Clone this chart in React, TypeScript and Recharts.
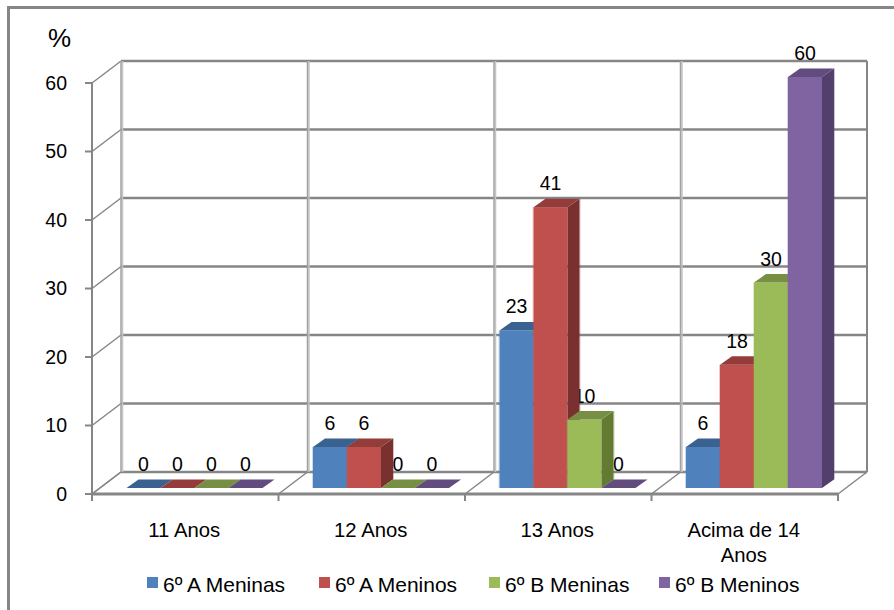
import React from 'react';
import { BarChart, Bar, XAxis, YAxis, CartesianGrid, Legend } from 'recharts';

const categories = ['11 Anos', '12 Anos', '13 Anos', 'Acima de 14 Anos'];
const aMeninas = [0, 6, 23, 6];
const aMeninos = [0, 6, 41, 18];
const bMeninas = [0, 0, 10, 30];
const bMeninos = [0, 0, 0, 60];
const seriesNames = ['6º A Meninas', '6º A Meninos', '6º B Meninas', '6º B Meninos'];
const valueTicks = [0, 10, 20, 30, 40, 50, 60];
const frontColors = ['#4F81BD', '#C0504D', '#9BBB59', '#8064A2'];
const topColors = ['#3A6291', '#943C3A', '#768F43', '#624B7D'];
const sideColors = ['#345A87', '#7A302E', '#637A33', '#533F6C'];

const rows = categories.map((cat, i) => ({
  cat,
  a: aMeninas[i],
  b: aMeninos[i],
  c: bMeninas[i],
  d: bMeninos[i],
}));

const FONT = '"Liberation Sans", Arial, sans-serif';
const GREY = '#868686';
const LIGHT = '#C4C4C4';
const WALL_DX = 29;
const WALL_DY = 22;
const BAR_DX = 9.5;
const BAR_DY = 6;
const DEPTH_X = 12;
const DEPTH_Y = 8.5;

const wallHorizontal = (p: any) => (
  <g key={p.key ?? p.index}>
    <line x1={p.x1} y1={p.y1} x2={p.x1 + WALL_DX} y2={p.y1 - WALL_DY} stroke={GREY} strokeWidth={1.5} />
    <line x1={p.x1 + WALL_DX} y1={p.y1 - WALL_DY} x2={p.x2 + WALL_DX} y2={p.y1 - WALL_DY} stroke={GREY} strokeWidth={2.5} />
  </g>
);

const wallVertical = (p: any) => {
  const last = p.index === categories.length;
  const bx = p.x1 + WALL_DX;
  const bottom = Math.max(p.y1, p.y2);
  const top = Math.min(p.y1, p.y2);
  return (
    <g key={p.key ?? p.index}>
      <line x1={p.x1} y1={bottom} x2={p.x1} y2={bottom + 7} stroke={GREY} strokeWidth={2} />
      <line x1={p.x1} y1={bottom} x2={bx} y2={bottom - WALL_DY} stroke={GREY} strokeWidth={1.5} />
      {!last && <line x1={bx + 1.5} y1={top - WALL_DY} x2={bx + 1.5} y2={bottom - WALL_DY} stroke={LIGHT} strokeWidth={1.5} />}
      <line x1={bx} y1={top - WALL_DY} x2={bx} y2={bottom - WALL_DY} stroke={last ? GREY : '#A0A0A0'} strokeWidth={last ? 2 : 1.5} />
    </g>
  );
};

const categoryBoundaries = ({ offset }: any) =>
  [0, ...categories.map((_, i) => i + 1)].map((n) => offset.left + (n * offset.width) / categories.length);

const makeBarShape = (i: number) => (p: any) => {
  const x = p.x + BAR_DX;
  const w = p.width;
  const top = p.y - BAR_DY;
  const base = p.y + p.height - BAR_DY;
  const dx = DEPTH_X;
  const dy = DEPTH_Y;
  return (
    <g>
      {p.height > 0 && (
        <>
          <rect x={x - 1} y={top} width={1} height={base - top} fill={frontColors[i]} fillOpacity={0.3} />
          <rect x={x} y={top} width={w} height={base - top} fill={frontColors[i]} />
          <polygon points={`${x + w},${top} ${x + w + dx},${top - dy} ${x + w + dx},${base - dy} ${x + w},${base}`} fill={sideColors[i]} />
          <rect x={x + w + dx} y={top - dy} width={1} height={base - top} fill={sideColors[i]} fillOpacity={0.3} />
        </>
      )}
      <polygon points={`${x},${top} ${x + dx},${top - dy} ${x + w + dx},${top - dy} ${x + w},${top}`} fill={topColors[i]} />
    </g>
  );
};

const valueLabelShape = (p: any) => (
  <text
    x={p.x + BAR_DX + p.width / 2}
    y={p.y - BAR_DY - 17}
    textAnchor="middle"
    fontFamily={FONT}
    fontSize={19.5}
    fill="#000"
  >
    {p.value}
  </text>
);

const categoryTick = (p: any) => {
  const label: string = p.payload.value;
  const words = label.split(' ');
  const lines = words.length > 2 ? [words.slice(0, -1).join(' '), words[words.length - 1]] : [label];
  return (
    <text x={p.x - 1} y={537} textAnchor="middle" fontFamily={FONT} fontSize={20.3} fill="#000">
      {lines.map((line, i) => (
        <tspan key={line} x={p.x - 1} dy={i === 0 ? 0 : 24.5}>
          {line}
        </tspan>
      ))}
    </text>
  );
};

const legendLefts = [147, 319, 489, 659];

const legendContent = (p: any) => (
  <div style={{ position: 'relative', height: 20, width: 894, fontFamily: FONT, fontSize: 21, color: '#000' }}>
    {(p.payload || [])
      .filter((item: any) => item.type !== 'none')
      .map((item: any, i: number) => (
        <div key={item.value} style={{ position: 'absolute', left: legendLefts[i], top: 0, height: 20, lineHeight: '20px', whiteSpace: 'nowrap' }}>
          <span style={{ position: 'absolute', left: 0, top: 2, width: 11, height: 11, background: item.color }} />
          <span style={{ position: 'absolute', left: 16, top: 0 }}>{item.value}</span>
        </div>
      ))}
  </div>
);

const keys = ['a', 'b', 'c', 'd'];

export default function App() {
  return (
    <div style={{ position: 'absolute', left: 0, top: 0, width: 894, height: 610, background: '#fff', overflow: 'hidden' }}>
      <div style={{ position: 'absolute', left: 6.5, top: 6, width: 894, height: 620, borderLeft: `3px solid ${GREY}`, borderTop: `3px solid ${GREY}` }} />
      <div style={{ position: 'absolute', left: 48, top: 23, fontFamily: FONT, fontSize: 26, lineHeight: '30px', color: '#000' }}>%</div>
      <BarChart
        width={894}
        height={610}
        data={rows}
        margin={{ top: 83, right: 56, bottom: 56, left: 0 }}
        barSize={34}
        barGap={0}
        style={{ position: 'absolute', left: 0, top: 0 }}
      >
        <CartesianGrid
          horizontal={wallHorizontal}
          vertical={wallVertical}
          verticalCoordinatesGenerator={categoryBoundaries}
        />
        <XAxis
          dataKey="cat"
          height={40}
          axisLine={{ stroke: GREY, strokeWidth: 3 }}
          tickLine={false}
          tick={categoryTick}
          interval={0}
        />
        <XAxis xAxisId="labels" dataKey="cat" hide />
        <YAxis
          width={92}
          domain={[0, 60]}
          ticks={valueTicks}
          tickSize={7}
          tickMargin={18}
          axisLine={{ stroke: GREY, strokeWidth: 2 }}
          tickLine={{ stroke: GREY, strokeWidth: 2 }}
          tick={{ fontFamily: FONT, fontSize: 19.5, fill: '#000' }}
        />
        {keys.map((k) => (
          <Bar key={`label-${k}`} xAxisId="labels" dataKey={k} legendType="none" fill="none" shape={valueLabelShape} isAnimationActive={false} />
        ))}
        {keys.map((k, i) => (
          <Bar key={k} dataKey={k} name={seriesNames[i]} fill={frontColors[i]} shape={makeBarShape(i)} isAnimationActive={false} />
        ))}
        <Legend content={legendContent} wrapperStyle={{ left: 0, top: 575, bottom: 'auto', width: 894 }} />
      </BarChart>
    </div>
  );
}
